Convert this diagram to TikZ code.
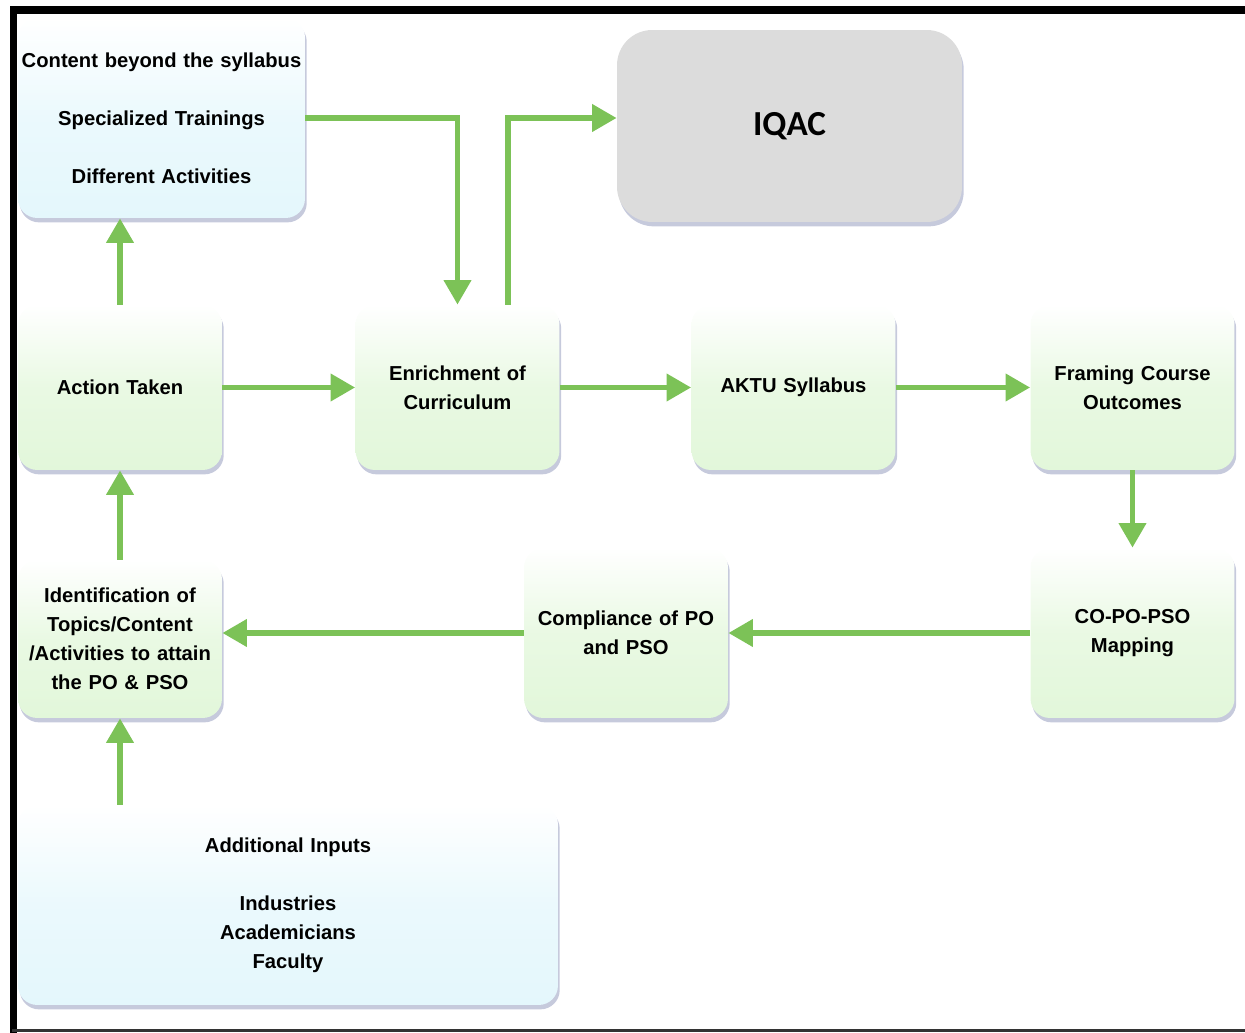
\documentclass[tikz,border=0pt]{standalone}
\usepackage{fontspec}
\setmainfont{Liberation Sans}
\newfontfamily\calibrifont{Carlito}
\usetikzlibrary{arrows.meta,shadows}

\definecolor{flowgreen}{HTML}{7CC257}
\definecolor{boxgreen}{HTML}{E2F7DA}
\definecolor{boxblue}{HTML}{E4F7FC}
\definecolor{boxgray}{HTML}{DCDCDC}
\definecolor{shadowblue}{HTML}{8E95BA}

\tikzset{
  boxshadow/.style={drop shadow={shadow xshift=1pt,shadow yshift=-2.5pt,fill=shadowblue,opacity=0.5}},
  greenbox/.style={rounded corners=11pt, top color=white, bottom color=boxgreen, middle color=boxgreen!75, boxshadow,
    minimum width=4.08cm, minimum height=3.3cm, text width=3.9cm, align=center, inner sep=0pt,
    font=\bfseries\fontsize{11.5}{16.5}\selectfont},
  bluebox/.style={greenbox, bottom color=boxblue, middle color=boxblue!75, text width=5.6cm},
  graybox/.style={rounded corners=20pt, fill=boxgray, boxshadow,
    minimum width=6.9cm, minimum height=3.84cm, inner sep=0pt,
    font=\calibrifont\bfseries\fontsize{20}{24}\selectfont},
  flow/.style={draw=flowgreen, line width=3.4pt, -{Triangle[length=14pt,width=15pt]}}
}

\begin{document}
\begin{tikzpicture}[x=0.02cm,y=-0.02cm]
\useasboundingbox (0,0) rectangle (1245,1033);

% frame
\draw[line width=5pt] (10,10) -- (1245,10);
\draw[line width=4pt] (13.5,8) -- (13.5,1033);
\draw[black!80, line width=1.7pt] (12,1030.5) -- (1245,1030.5);

\node[bluebox, minimum width=5.74cm, minimum height=4cm] (beyond) at (161.5,118)
  {Content beyond the syllabus\\[16.5pt]Specialized Trainings\\[16.5pt]Different Activities};
\node[graybox] (iqac) at (789.5,126) {IQAC};

\node[greenbox] (action) at (120,387.5) {Action Taken};
\node[greenbox] (enrich) at (457.5,387.5) {Enrichment of\\Curriculum};
\node[greenbox] (aktu) at (793.5,387.5) {AKTU Syllabus};
\node[greenbox] (framing) at (1132.5,387.5) {Framing Course\\Outcomes};

\node[greenbox, minimum height=3.4cm] (mapping) at (1132.5,633) {CO-PO-PSO\\Mapping};
\node[greenbox, minimum height=3.4cm] (comply) at (626,633) {Compliance of PO\\and PSO};
\node[greenbox, minimum height=3.16cm] (ident) at (120,639)
  {Identification of\\Topics/Content\\/Activities to attain\\the PO \& PSO};

\node[bluebox, minimum width=10.8cm, minimum height=4cm] (inputs) at (288,905)
  {Additional Inputs\\[16.5pt]Industries\\Academicians\\Faculty};

% connectors
\draw[flow] (action.north) -- (action.north |- beyond.south);
\draw[flow] (beyond.east) -| (enrich.north);
\draw[flow] ([xshift=1.01cm]enrich.north) |- ([yshift=0.16cm]iqac.west);
\draw[flow] (action) -- (enrich);
\draw[flow] (enrich) -- (aktu);
\draw[flow] (aktu) -- (framing);
\draw[flow] (framing) -- (mapping);
\draw[flow] (mapping) -- (comply);
\draw[flow] (comply.west) -- (comply.west -| ident.east);
\draw[flow] (ident) -- (action);
\draw[flow] (inputs.north -| ident.south) -- (ident.south);
\end{tikzpicture}
\end{document}
